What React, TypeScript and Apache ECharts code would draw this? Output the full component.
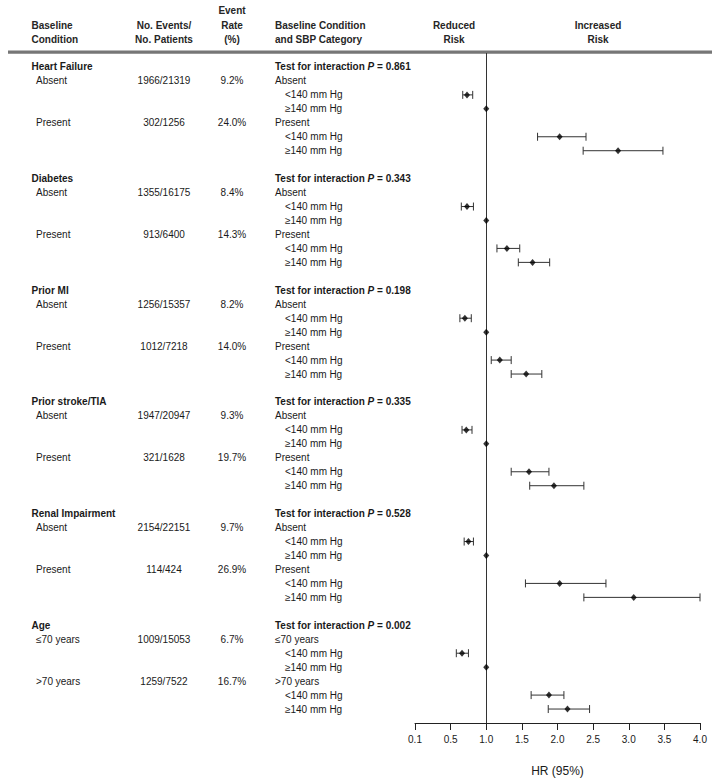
import React, { useEffect, useRef } from "react";
import * as echarts from "echarts";

const groups = ["Heart Failure", "Diabetes", "Prior MI", "Prior stroke/TIA", "Renal Impairment", "Age"];
const pValues = ["0.861", "0.343", "0.198", "0.335", "0.528", "0.002"];
const subgroups = [
  ["Absent", "Present"],
  ["Absent", "Present"],
  ["Absent", "Present"],
  ["Absent", "Present"],
  ["Absent", "Present"],
  ["≤70 years", ">70 years"],
];
const eventsPatients = [
  ["1966/21319", "302/1256"],
  ["1355/16175", "913/6400"],
  ["1256/15357", "1012/7218"],
  ["1947/20947", "321/1628"],
  ["2154/22151", "114/424"],
  ["1009/15053", "1259/7522"],
];
const eventRates = [
  ["9.2%", "24.0%"],
  ["8.4%", "14.3%"],
  ["8.2%", "14.0%"],
  ["9.3%", "19.7%"],
  ["9.7%", "26.9%"],
  ["6.7%", "16.7%"],
];
const sbpLabels = ["<140 mm Hg", "≥140 mm Hg"];

// per group: [subgroup0 <140, subgroup0 ≥140 (reference), subgroup1 <140, subgroup1 ≥140]
const hrPoint = [
  [0.73, 1.0, 2.03, 2.85],
  [0.73, 1.0, 1.29, 1.65],
  [0.7, 1.0, 1.19, 1.56],
  [0.72, 1.0, 1.6, 1.95],
  [0.75, 1.0, 2.03, 3.07],
  [0.66, 1.0, 1.88, 2.14],
];
const hrLow = [
  [0.67, null, 1.72, 2.36],
  [0.65, null, 1.15, 1.45],
  [0.63, null, 1.07, 1.35],
  [0.66, null, 1.35, 1.61],
  [0.69, null, 1.55, 2.37],
  [0.58, null, 1.63, 1.87],
];
const hrHigh = [
  [0.81, null, 2.4, 3.48],
  [0.82, null, 1.47, 1.89],
  [0.79, null, 1.35, 1.78],
  [0.8, null, 1.88, 2.37],
  [0.82, null, 2.68, 4.0],
  [0.75, null, 2.09, 2.45],
];
const tickLabels = ["0.1", "0.5", "1.0", "1.5", "2.0", "2.5", "3.0", "3.5", "4.0"];

// broken scale: 0.1..0.5 occupies one step, then 0.5 per step
const toPos = (hr: number) => (hr < 0.5 ? (hr - 0.1) / 0.4 : hr * 2);

const ROWS_PER_GROUP = 8;
const CAT_COUNT = 49; // rows -1 .. 47
const FONT = "Liberation Sans, Arial, Helvetica, sans-serif";
const TXT = "#1a1a1a";

function buildColumns() {
  const c1: string[] = Array(CAT_COUNT).fill("");
  const c2: string[] = Array(CAT_COUNT).fill("");
  const c3: string[] = Array(CAT_COUNT).fill("");
  const c4: string[] = Array(CAT_COUNT).fill("");
  groups.forEach((g, gi) => {
    const i = gi * ROWS_PER_GROUP + 1;
    c1[i] = `{h|${g}}`;
    c1[i + 1] = `{s|${subgroups[gi][0]}}`;
    c1[i + 4] = `{s|${subgroups[gi][1]}}`;
    c2[i + 1] = eventsPatients[gi][0];
    c2[i + 4] = eventsPatients[gi][1];
    c3[i + 1] = eventRates[gi][0];
    c3[i + 4] = eventRates[gi][1];
    c4[i] = `{b|Test for interaction }{bi|P}{b| = ${pValues[gi]}}`;
    c4[i + 1] = `{n|${subgroups[gi][0]}}`;
    c4[i + 2] = `{i|${sbpLabels[0]}}`;
    c4[i + 3] = `{i|${sbpLabels[1]}}`;
    c4[i + 4] = `{n|${subgroups[gi][1]}}`;
    c4[i + 5] = `{i|${sbpLabels[0]}}`;
    c4[i + 6] = `{i|${sbpLabels[1]}}`;
  });
  return [c1, c2, c3, c4];
}

function buildData() {
  const points: number[][] = [];
  const bars: number[][] = [];
  const offs = [2, 3, 5, 6];
  groups.forEach((_, gi) => {
    offs.forEach((o, k) => {
      const row = gi * ROWS_PER_GROUP + o;
      points.push([toPos(hrPoint[gi][k]), row]);
      const lo = hrLow[gi][k];
      const hi = hrHigh[gi][k];
      if (lo !== null && hi !== null) bars.push([toPos(lo), toPos(hi), row]);
    });
  });
  return { points, bars };
}

export default function App() {
  const ref = useRef<HTMLDivElement>(null);
  useEffect(() => {
    document.body.style.margin = "0";
    const chart = echarts.init(ref.current!, undefined, { renderer: "svg" });
    const cols = buildColumns();
    const { points, bars } = buildData();
    const cats = Array.from({ length: CAT_COUNT }, (_, i) => String(i - 1));
    const labelBase = {
      interval: 0,
      fontFamily: FONT,
      fontSize: 10,
      color: TXT,
      margin: 0,
    };
    const textAxis = (offset: number, align: string, col: string[], rich?: any) => ({
      type: "category",
      gridIndex: 0,
      data: cats,
      inverse: true,
      boundaryGap: false,
      position: "left",
      offset,
      axisLine: { show: false },
      axisTick: { show: false },
      splitLine: { show: false },
      axisLabel: {
        ...labelBase,
        align,
        formatter: (_v: string, idx: number) => col[idx],
        rich,
      },
    });
    const headerText = (x: number, y: number, text: string, align: string) => ({
      type: "text",
      x,
      y,
      style: {
        text,
        fill: "#262626",
        font: `bold 10px ${FONT}`,
        textAlign: align,
        textVerticalAlign: "middle",
      },
    });

    chart.setOption({
      animation: false,
      backgroundColor: "#ffffff",
      grid: { left: 415, right: 14, top: 53, height: 674, containLabel: false },
      xAxis: {
        type: "value",
        position: "bottom",
        min: 0,
        max: 8,
        interval: 1,
        axisLine: { show: true, onZero: false, lineStyle: { color: "#222", width: 1 } },
        axisTick: { show: true, length: 7, lineStyle: { color: "#222" } },
        splitLine: { show: false },
        axisLabel: {
          fontFamily: FONT,
          fontSize: 10,
          color: TXT,
          margin: 11,
          formatter: (v: number) => tickLabels[Math.round(v)] ?? "",
        },
        name: "HR (95%)",
        nameLocation: "middle",
        nameGap: 42,
        nameTextStyle: { fontFamily: FONT, fontSize: 12, color: TXT },
      },
      yAxis: [
        { type: "value", min: -1, max: 47, inverse: true, show: false },
        textAxis(383.5, "left", cols[0], {
          h: { fontWeight: "bold", fontSize: 10, fontFamily: FONT, color: TXT },
          s: { fontSize: 10, fontFamily: FONT, color: TXT, padding: [0, 0, 0, 4.5] },
        }),
        textAxis(251, "center", cols[1]),
        textAxis(183, "center", cols[2]),
        textAxis(140, "left", cols[3], {
          b: { fontWeight: "bold", fontSize: 10, fontFamily: FONT, color: TXT },
          bi: { fontWeight: "bold", fontStyle: "italic", fontSize: 10, fontFamily: FONT, color: TXT },
          n: { fontSize: 10, fontFamily: FONT, color: TXT },
          i: { fontSize: 10, fontFamily: FONT, color: TXT, padding: [0, 0, 0, 10] },
        }),
      ],
      graphic: [
        headerText(31.5, 25, "Baseline", "left"),
        headerText(31.5, 39.5, "Condition", "left"),
        headerText(164, 25, "No. Events/", "center"),
        headerText(164, 39.5, "No. Patients", "center"),
        headerText(232, 10.5, "Event", "center"),
        headerText(232, 25, "Rate", "center"),
        headerText(232, 39.5, "(%)", "center"),
        headerText(275, 25, "Baseline Condition", "left"),
        headerText(275, 39.5, "and SBP Category", "left"),
        headerText(454, 25, "Reduced", "center"),
        headerText(454, 39.5, "Risk", "center"),
        headerText(598, 25, "Increased", "center"),
        headerText(598, 39.5, "Risk", "center"),
        {
          type: "line",
          shape: { x1: 8, y1: 51.5, x2: 712, y2: 51.5 },
          style: { stroke: "#777", lineWidth: 2 },
        },
        {
          type: "line",
          shape: { x1: 8, y1: 53, x2: 712, y2: 53 },
          style: { stroke: "#333", lineWidth: 1 },
        },
      ],
      series: [
        {
          type: "custom",
          yAxisIndex: 0,
          data: bars,
          encode: { x: [0, 1], y: 2 },
          silent: true,
          renderItem: (_params: any, api: any) => {
            const p1 = api.coord([api.value(0), api.value(2)]);
            const p2 = api.coord([api.value(1), api.value(2)]);
            const h = 4;
            const style = { stroke: "#333", lineWidth: 1, fill: "none" };
            return {
              type: "group",
              children: [
                { type: "line", shape: { x1: p1[0], y1: p1[1], x2: p2[0], y2: p2[1] }, style },
                { type: "line", shape: { x1: p1[0], y1: p1[1] - h, x2: p1[0], y2: p1[1] + h }, style },
                { type: "line", shape: { x1: p2[0], y1: p2[1] - h, x2: p2[0], y2: p2[1] + h }, style },
              ],
            };
          },
        },
        {
          type: "scatter",
          yAxisIndex: 0,
          data: points,
          symbol: "diamond",
          symbolSize: [6, 7],
          itemStyle: { color: "#000" },
          silent: true,
          z: 5,
          markLine: {
            silent: true,
            symbol: "none",
            label: { show: false },
            lineStyle: { color: "#333", width: 1, type: "solid" },
            data: [{ xAxis: toPos(1) }],
          },
        },
      ],
    });
    return () => chart.dispose();
  }, []);
  return <div ref={ref} style={{ width: 714, height: 782 }} />;
}
